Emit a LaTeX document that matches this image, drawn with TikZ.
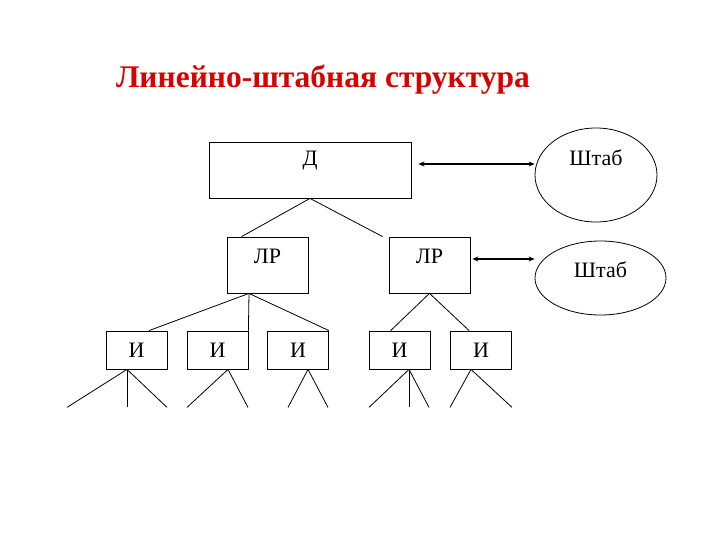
\documentclass[tikz,border=0pt]{standalone}
\usepackage{fontspec}
\setmainfont{Liberation Serif}
\usetikzlibrary{shapes.geometric,calc,arrows.meta}
\begin{document}
\begin{tikzpicture}[x=1pt,y=-1pt,
  box/.style={draw,line width=0.8pt,inner sep=0pt},
  oval/.style={draw,ellipse,line width=0.8pt,inner sep=0pt},
  lbl/.style={inner sep=0pt,font=\fontsize{22}{26}\selectfont},
  ln/.style={line width=0.8pt},
  arr/.style={line width=1.4pt,{Stealth[length=6pt,width=5pt]}-{Stealth[length=6pt,width=5pt]}}]
\useasboundingbox[fill=white] (0,0) rectangle (720,540);
\node[anchor=base,text=red!85!black,inner sep=0pt,font=\fontsize{31.5}{36}\selectfont\bfseries] (title) at (323,88) {Линейно-штабная структура};
% top
\node[box,minimum width=202,minimum height=56] (D) at (310,170) {};
\node[lbl] (Dt) at (310,161) {Д};
\node[oval,minimum width=122,minimum height=94] (E1) at (596,175) {};
\node[lbl] (E1t) at (596,158) {Штаб};
\draw[arr] ($(D.east)+(7,-6)$) -- ($(E1.west)+(0,-11)$);
% middle
\node[box,minimum width=81,minimum height=56] (L1) at (267.5,265) {};
\node[lbl] (L1t) at (267.5,256) {ЛР};
\node[box,minimum width=81,minimum height=56] (L2) at (429.5,265) {};
\node[lbl] (L2t) at (429.5,256) {ЛР};
\node[oval,minimum width=131,minimum height=74] (E2) at (600.5,278) {};
\node[lbl] (E2t) at (600.5,270) {Штаб};
\draw[arr] ($(L2.east)+(2,-6)$) -- ($(E2.west)+(0,-19)$);
\draw[ln] (D.south) -- ($(L1.north west)+(15,0)$);
\draw[ln] (D.south) -- ($(L2.north west)+(-6,0)$);
% bottom
\foreach \n/\x in {I1/136.5,I2/217.5,I3/298,I4/399.5,I5/481}{
  \node[box,minimum width=61,minimum height=38] (\n) at (\x,350) {};
  \node[lbl] (\n t) at (\x,350) {И};
}
\draw[ln] ($(L1.south)+(-18.5,0)$) -- ($(I1.north)+(12.5,0)$);
\draw[ln] ($(L1.south)+(-18.5,0)$) -- (I2.north east);
\draw[ln] ($(L1.south)+(-18.5,0)$) -- (I3.north east);
\draw[ln] (L2.south) -- ($(I4.north west)+(22,0)$);
\draw[ln] (L2.south) -- ($(I5.north west)+(19,0)$);
% leaves
\draw[ln] ($(I1.south)+(-9.5,0)$) -- ++(-60,38);
\draw[ln] ($(I1.south)+(-9.5,0)$) -- ++(0,38);
\draw[ln] ($(I1.south)+(-9.5,0)$) -- ++(40,38);
\draw[ln] ($(I2.south)+(10.5,0)$) -- ++(-41,38);
\draw[ln] ($(I2.south)+(10.5,0)$) -- ++(20,38);
\draw[ln] ($(I3.south)+(10,0)$) -- ++(-20,38);
\draw[ln] ($(I3.south)+(10,0)$) -- ++(20,38);
\draw[ln] ($(I4.south)+(9.5,0)$) -- ++(-40,38);
\draw[ln] ($(I4.south)+(9.5,0)$) -- ++(0,38);
\draw[ln] ($(I4.south)+(9.5,0)$) -- ++(20,38);
\draw[ln] ($(I5.south)+(-10,0)$) -- ++(-21,38);
\draw[ln] ($(I5.south)+(-10,0)$) -- ++(41,38);
\end{tikzpicture}
\end{document}
